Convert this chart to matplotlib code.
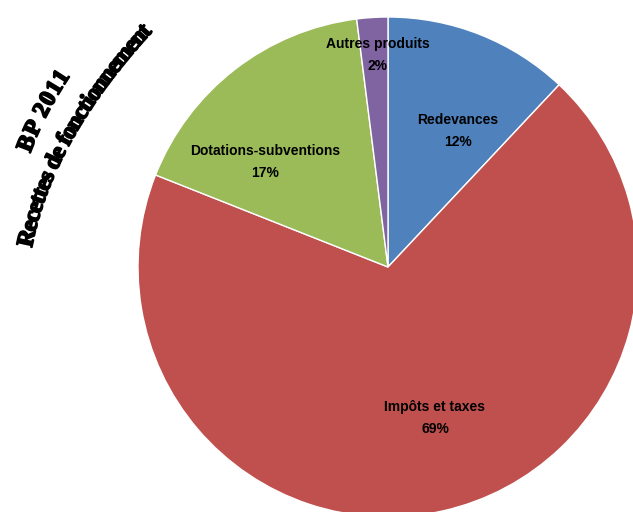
import numpy as np
import matplotlib
matplotlib.use("Agg")
import matplotlib.pyplot as plt
import matplotlib.patheffects as pe
from matplotlib.font_manager import FontProperties
from matplotlib.textpath import text_to_path

# data
categories = ["Redevances", "Impôts et taxes", "Dotations-subventions", "Autres produits"]
shares = [12, 69, 17, 2]
colors = ["#4F81BD", "#C0504D", "#9BBB59", "#8064A2"]
title_line1 = "BP 2011"
title_line2 = "Recettes de fonctionnement"

# label positions in pixels (x, y from top)
label_pos = [(458, 131), (435, 418), (265, 162), (378, 55)]

W, H = 633, 512
DPI = 100


def bezier(p0, p1, p2, n=600):
    t = np.linspace(0, 1, n)[:, None]
    p0, p1, p2 = map(np.array, (p0, p1, p2))
    pts = (1 - t) ** 2 * p0 + 2 * (1 - t) * t * p1 + t ** 2 * p2
    pts[:, 1] = H - pts[:, 1]
    return pts


def text_on_curve(ax, s, pts, size, family="Liberation Serif"):
    # size in points; advances converted to pixels
    prop = FontProperties(family=family, weight="bold", size=size)
    adv = []
    prev = 0.0
    for i in range(1, len(s) + 1):
        w, _, _ = text_to_path.get_text_width_height_descent(s[:i], prop, ismath=False)
        w = w * DPI / 72
        adv.append(w - prev)
        prev = w
    seg = np.hypot(*np.diff(pts, axis=0).T)
    cum = np.concatenate([[0], np.cumsum(seg)])
    k = cum[-1] / sum(adv)
    pos = 0.0
    for ch, a in zip(s, adv):
        mid = (pos + a / 2) * k
        pos += a
        if ch == " ":
            continue
        x = np.interp(mid, cum, pts[:, 0])
        y = np.interp(mid, cum, pts[:, 1])
        i = min(np.searchsorted(cum, mid), len(pts) - 1)
        i0 = max(i - 1, 0)
        dx, dy = pts[i] - pts[i0]
        ang = np.degrees(np.arctan2(dy, dx))
        ax.text(x, y, ch, fontproperties=prop, rotation=ang, rotation_mode="anchor",
                ha="center", va="baseline", color="black",
                path_effects=[pe.withStroke(linewidth=1.3, foreground="black")])


fig = plt.figure(figsize=(W / DPI, H / DPI), dpi=DPI)
ax = fig.add_axes([0, 0, 1, 1])
ax.axis("off")

ax.pie(shares, colors=colors, startangle=90, counterclock=False,
       center=(388, H - 267), radius=250,
       wedgeprops=dict(edgecolor="white", linewidth=1))
ax.set_xlim(0, W)
ax.set_ylim(0, H)
ax.set_aspect("equal")

for name, val, (px, py) in zip(categories, shares, label_pos):
    ax.text(px, H - py, f"{name}\n{val}%", ha="center", va="center",
            fontsize=10, fontweight="bold", family="Liberation Sans",
            linespacing=1.75, color="black")

# curved title (points given as pixels from top)
pts1 = bezier((30, 154), (43, 117), (70, 76))
pts2 = bezier((32, 247), (52, 141), (152, 32))
text_on_curve(ax, title_line1, pts1, 17)
text_on_curve(ax, title_line2, pts2, 17)

fig.savefig("out.png", dpi=DPI)
